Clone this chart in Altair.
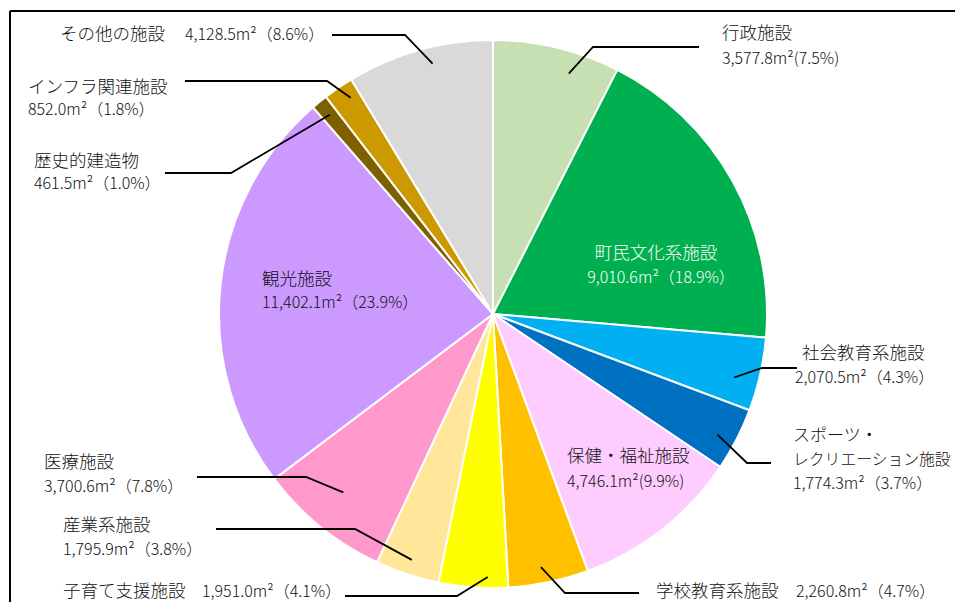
import math
import altair as alt
import pandas as pd

# ---------------- data ----------------
categories = ["行政施設", "町民文化系施設", "社会教育系施設", "スポーツ・レクリエーション施設",
              "保健・福祉施設", "学校教育系施設", "子育て支援施設", "産業系施設", "医療施設",
              "観光施設", "歴史的建造物", "インフラ関連施設", "その他の施設"]
areas = [3577.8, 9010.6, 2070.5, 1774.3, 4746.1, 2260.8, 1951.0, 1795.9, 3700.6,
         11402.1, 461.5, 852.0, 4128.5]
shares = [7.5, 18.9, 4.3, 3.7, 9.9, 4.7, 4.1, 3.8, 7.8, 23.9, 1.0, 1.8, 8.6]
colors = ["#C6E0B4", "#00B050", "#00B0F0", "#0070C0", "#FFCCFF", "#FFC000", "#FFFF00",
          "#FFE699", "#FF99CC", "#CC99FF", "#7F6000", "#CC9900", "#D9D9D9"]

# ---------------- layout (image pixel coordinates) ----------------
W, H = 947, 594
CX, CY, R = 493, 314, 274
FONT = "Noto Sans CJK JP"
FS_NAME = 17.5
FS_VAL = 16

# wrapped names: (text, font size)
name_lines = {
    "スポーツ・レクリエーション施設": [("スポーツ・", 17), ("レクリエーション施設", 15.8)],
}
# two-line labels: name at (x, y), value at (x2, y + gap)
# single-line labels: name at (x, y), value at (x2, y)
# leader: (radius fraction, angle shift in degrees, elbow x, elbow y, end x)
label_layout = {
    "行政施設":   dict(x=722, y=34, gap=25, narrow=True, leader=(0.92, 4, 593, 47, 699)),
    "町民文化系施設": dict(x=656, y=254, gap=24, align="center", color="#fff", x2=661, leader=None),
    "社会教育系施設": dict(x=802, y=354, gap=24, x2=795, leader=(0.91, 2, 762, 368, 797)),
    "スポーツ・レクリエーション施設": dict(x=793, y=436, gap=24, leader=(0.93, 1, 747, 463, 771)),
    "保健・福祉施設": dict(x=567, y=457, gap=25, narrow=True, leader=None),
    "学校教育系施設": dict(x=656, y=592, single=True, x2=796, leader=(0.94, 1, 565, 593, 639)),
    "子育て支援施設": dict(x=63, y=592, single=True, x2=202, leader=(0.96, -3, 457, 596, 345)),
    "産業系施設":   dict(x=63, y=526, gap=24, leader=(0.945, 0, 355, 529, 216)),
    "医療施設":    dict(x=44, y=463, gap=24, leader=(0.85, 1, 306, 477, 197)),
    "観光施設":    dict(x=262, y=280, gap=23, leader=None),
    "歴史的建造物":  dict(x=34, y=162, gap=22, leader=(0.94, 0, 231, 173, 165)),
    "インフラ関連施設": dict(x=28, y=88, gap=22, leader=(0.945, 1, 327, 81, 185)),
    "その他の施設":  dict(x=60, y=35, single=True, x2=185, leader=(0.94, 2, 405, 35, 332)),
}

# ---------------- tables ----------------
pie_df = pd.DataFrame({"cat": categories, "area": areas, "idx": list(range(len(categories)))})

total = sum(areas)
text_rows, leader_rows = [], []
cum = 0.0
for i, (cat, a, s) in enumerate(zip(categories, areas, shares)):
    L = label_layout[cat]
    mid = (cum + a / 2) / total * 2 * math.pi
    cum += a
    val = f"{a:,.1f}m²({s}%)" if L.get("narrow") else f"{a:,.1f}m²（{s}%）"
    al = L.get("align", "left")
    tc = L.get("color", "#111")
    if L.get("single"):
        text_rows.append(dict(x=L["x"], y=L["y"], t=cat, align=al, tc=tc, fs=FS_NAME))
        text_rows.append(dict(x=L["x2"], y=L["y"], t=val, align=al, tc=tc, fs=FS_VAL))
    else:
        names = name_lines.get(cat, [(cat, FS_NAME)])
        for j, (n, fs) in enumerate(names):
            text_rows.append(dict(x=L["x"], y=L["y"] + j * L["gap"], t=n, align=al, tc=tc, fs=fs))
        text_rows.append(dict(x=L.get("x2", L["x"]), y=L["y"] + len(names) * L["gap"], t=val,
                              align=al, tc=tc, fs=FS_VAL))
    if L["leader"] is not None:
        rf, shift, ex, ey, endx = L["leader"]
        ang = mid + math.radians(shift)
        sx = CX + rf * R * math.sin(ang)
        sy = CY - rf * R * math.cos(ang)
        for k, (px, py) in enumerate([(sx, sy), (ex, ey), (endx, ey)]):
            leader_rows.append(dict(cat=cat, k=k, x=px, y=py))

text_df = pd.DataFrame(text_rows)
leader_df = pd.DataFrame(leader_rows)
frame_df = pd.DataFrame({"x": [10, 10], "y": [11, 11], "x2": [990, 10], "y2": [11, 640]})

xs = alt.Scale(domain=[8, 8 + W])
ys = alt.Scale(domain=[8, 8 + H], reverse=True)

pie = alt.Chart(pie_df).mark_arc(outerRadius=R, stroke="white", strokeWidth=2).encode(
    theta=alt.Theta("area:Q", stack=True),
    order=alt.Order("idx:Q"),
    color=alt.Color("cat:N", scale=alt.Scale(domain=categories, range=colors), legend=None),
    x=alt.value(CX - 8),
    y=alt.value(CY - 8),
)

leaders = alt.Chart(leader_df).mark_line(color="#000", strokeWidth=1.8).encode(
    x=alt.X("x:Q", scale=xs, axis=None),
    y=alt.Y("y:Q", scale=ys, axis=None),
    detail="cat:N",
    order="k:Q",
)

def text_layer(al):
    return alt.Chart(text_df[text_df["align"] == al]).mark_text(
        align=al, baseline="middle", font=FONT, fontWeight=300
    ).encode(
        x=alt.X("x:Q", scale=xs, axis=None),
        y=alt.Y("y:Q", scale=ys, axis=None),
        text="t:N",
        size=alt.Size("fs:Q", scale=None),
        color=alt.Color("tc:N", scale=None),
    )

frame = alt.Chart(frame_df).mark_rule(color="#000", strokeWidth=2).encode(
    x=alt.X("x:Q", scale=xs, axis=None),
    y=alt.Y("y:Q", scale=ys, axis=None),
    x2="x2:Q",
    y2="y2:Q",
)

chart = alt.layer(
    pie, leaders, text_layer("left"), text_layer("center"), frame
).properties(
    width=W, height=H, padding=0, autosize=alt.AutoSizeParams(type="none"), background="white"
).configure_view(stroke=None)

chart.save("out.html", embed_options={"renderer": "svg", "actions": False})
